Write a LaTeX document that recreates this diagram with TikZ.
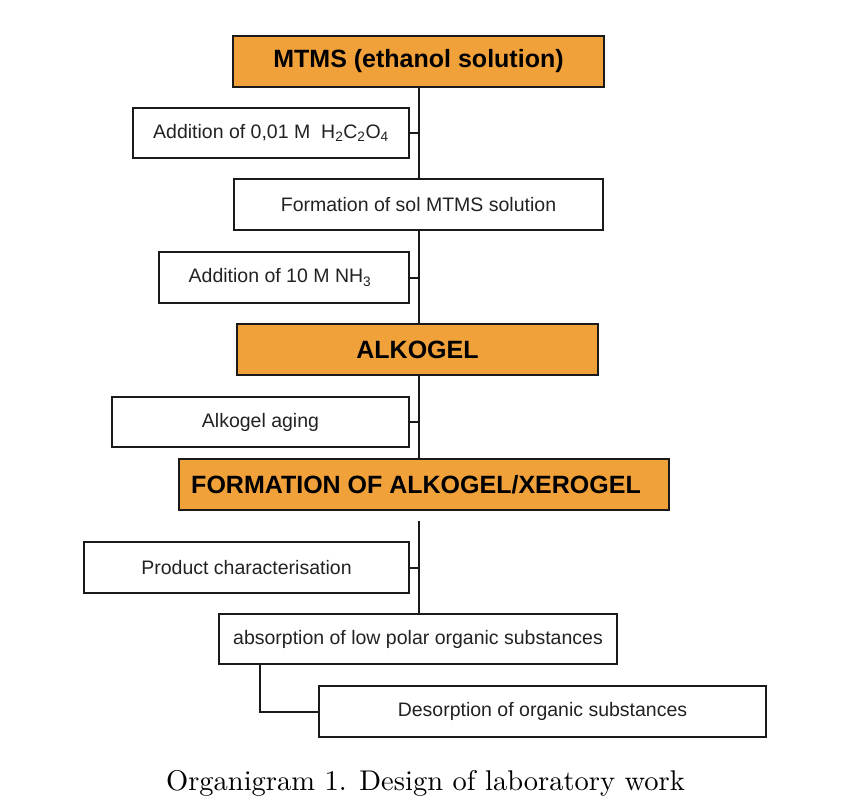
\documentclass[tikz,border=0pt]{standalone}
\usepackage{fontspec}
\setmainfont{Latin Modern Roman}
\newfontfamily\capfont{lmroman10-regular.otf}
\newfontfamily\arialfont{Liberation Sans}
\definecolor{boxorange}{HTML}{F0A13A}
\definecolor{boxline}{HTML}{1A1A1A}
\definecolor{boxtext}{HTML}{222222}
\tikzset{
  stepbox/.style={draw=boxline, line width=2.4pt, fill=white, inner sep=0pt,
    text=boxtext, font=\arialfont\fontsize{19.5}{23}\selectfont},
  headbox/.style={draw=boxline, line width=2.4pt, fill=boxorange, inner sep=0pt,
    text=black, font=\arialfont\bfseries\fontsize{25}{29}\selectfont},
  link/.style={draw=boxline, line width=2pt}
}
\begin{document}
\begin{tikzpicture}[x=1pt,y=-1pt]
\useasboundingbox (0,0) rectangle (842,810);
\node[headbox, minimum width=371pt, minimum height=51pt] (m1) at (418.5,61.5) {MTMS (ethanol solution)};
\node[stepbox, minimum width=276pt, minimum height=50pt] (a1) at (271,133) {Addition of 0,01 M\ \ H\textsubscript{2}C\textsubscript{2}O\textsubscript{4}};
\node[stepbox, minimum width=369pt, minimum height=51pt] (f1) at (418.5,204.5) {Formation of sol MTMS solution};
\node[stepbox, minimum width=250pt, minimum height=51pt] (a2) at (284,277.5) {\hspace*{-8pt}Addition of 10 M NH\textsubscript{3}};
\node[headbox, minimum width=361pt, minimum height=51pt] (alk) at (417.5,349.5) {ALKOGEL};
\node[stepbox, minimum width=297pt, minimum height=50pt] (ag) at (260.5,422) {Alkogel aging};
\node[headbox, minimum width=490pt, minimum height=51pt] (fx) at (424,484.5) {\hspace*{-16pt}FORMATION OF ALKOGEL/XEROGEL};
\node[stepbox, minimum width=325pt, minimum height=51pt] (pc) at (246.5,567.5) {Product characterisation};
\node[stepbox, minimum width=398pt, minimum height=50pt] (ab) at (418,639) {absorption of low polar organic substances};
\node[stepbox, minimum width=447pt, minimum height=51pt] (de) at (542.5,711.5) {Desorption of organic substances};
\node[font=\capfont\fontsize{28.5}{34}\selectfont, inner sep=0pt] (cap) at (425.5,783) {Organigram 1. Design of laboratory work};

\coordinate (gap) at (418.5,521);
\coordinate (elb) at (260,664);

\path[link] (m1.south) -- (f1.north);
\path[link] (f1.south) -- (f1.south |- alk.north);
\path[link] (f1.south |- alk.south) -- (f1.south |- fx.north);
\path[link] (gap) -- (gap |- ab.north);
\path[link] (a1.east) -- (a1.east -| m1.south);
\path[link] (a2.east) -- (a2.east -| m1.south);
\path[link] (ag.east) -- (ag.east -| m1.south);
\path[link] (pc.east) -- (pc.east -| m1.south);
\path[link] (elb) |- (de.west);
\end{tikzpicture}
\end{document}
